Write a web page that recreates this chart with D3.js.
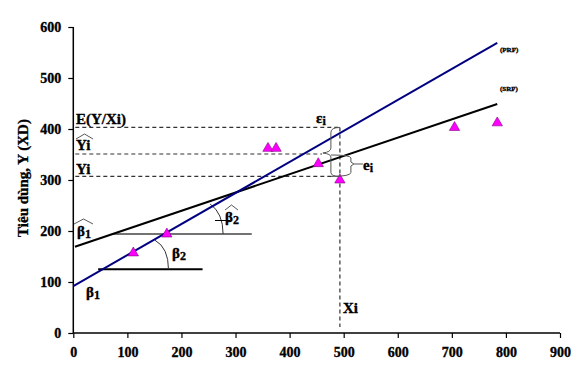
<!DOCTYPE html>
<html><head><meta charset="utf-8">
<script src="https://cdn.jsdelivr.net/npm/d3@7/dist/d3.min.js"></script>
<style>body{margin:0;background:#fff}svg{display:block}text{font-family:"Liberation Serif","Times New Roman",serif;font-weight:bold;stroke:#000;stroke-width:0.35px}</style>
</head><body>
<svg id="c" width="587" height="368"></svg>
<script>
// ---- data ----
const xTicks = [0,100,200,300,400,500,600,700,800,900];
const yTicks = [0,100,200,300,400,500,600];
const obsX = [111,173,360,375,453,493,705,784];
const obsY = [157,194,362,362,332,300,403,412];
const prfX = [0,784], prfY = [92,569];
const srfX = [3,784], srfY = [169,449];
const levelLabels = ["E(Y/Xi)","Yi","Yi"];
const levelValues = [403,351,307];
const levelEnds = [493,460,477];
const xiValue = 493;
const refLevels = [194,125];
const refStart = [71,46];
const refEnd = [330,239];

const svg = d3.select("#c");
const x = d3.scaleLinear().domain([0,900]).range([73.3,560]);
const y = d3.scaleLinear().domain([0,600]).range([333,27]);

// axes
const ax = svg.append("g").attr("transform","translate(0,333)")
  .call(d3.axisBottom(x).tickValues(xTicks).tickSize(5).tickPadding(9));
const ay = svg.append("g").attr("transform","translate(73.3,0)")
  .call(d3.axisLeft(y).tickValues(yTicks).tickSize(5).tickPadding(7));
[ax,ay].forEach(a=>{
  a.select(".domain").attr("stroke","#000").attr("stroke-width",1.5);
  a.selectAll(".tick line").attr("stroke","#000").attr("stroke-width",1.2);
  a.selectAll("text").attr("font-size",14).attr("fill","#000")
   .attr("font-family","Liberation Serif, serif").attr("font-weight","bold");
});
ax.select(".domain").attr("d","M73.3,0H560");
ay.select(".domain").attr("d","M0,333V27");

svg.append("text").attr("transform","translate(28,178) rotate(-90)")
  .attr("text-anchor","middle").attr("font-size",15).text("Tiêu dùng, Y (XD)");

// dashed level lines
const dash = "4,3";
levelValues.forEach((v,i)=>{
  svg.append("line").attr("x1",x(0)+2).attr("x2",x(levelEnds[i]))
    .attr("y1",y(v)).attr("y2",y(v)).attr("stroke","#333").attr("stroke-width",1.2)
    .attr("stroke-dasharray",dash);
});
svg.append("line").attr("x1",x(xiValue)).attr("x2",x(xiValue))
  .attr("y1",y(levelValues[0])).attr("y2",y(12))
  .attr("stroke","#333").attr("stroke-width",1.2).attr("stroke-dasharray",dash);

// reference horizontal lines
svg.append("line").attr("x1",x(refStart[0])).attr("x2",x(refEnd[0]))
  .attr("y1",y(refLevels[0])).attr("y2",y(refLevels[0])).attr("stroke","#444").attr("stroke-width",1.5);
svg.append("line").attr("x1",x(refStart[1])).attr("x2",x(refEnd[1]))
  .attr("y1",y(refLevels[1])).attr("y2",y(refLevels[1])).attr("stroke","#000").attr("stroke-width",2);

// arcs
svg.append("path").attr("d",`M${x(176)},${y(125)}Q${x(176)},${y(167)} ${x(151)},${y(182)}`)
  .attr("fill","none").attr("stroke","#333").attr("stroke-width",1);
svg.append("path").attr("d",`M${x(277)},${y(194)}Q${x(277)},${y(235)} ${x(253)},${y(253)}`)
  .attr("fill","none").attr("stroke","#333").attr("stroke-width",1);

// regression lines
const line = d3.line().x(d=>x(d[0])).y(d=>y(d[1]));
svg.append("path").datum(d3.zip(srfX,srfY)).attr("d",line)
  .attr("fill","none").attr("stroke","#000").attr("stroke-width",2);
svg.append("path").datum(d3.zip(prfX,prfY)).attr("d",line)
  .attr("fill","none").attr("stroke","#000080").attr("stroke-width",2);

// points
svg.selectAll(".pt").data(d3.zip(obsX,obsY)).join("path")
  .attr("transform",d=>`translate(${x(d[0])},${y(d[1])})`)
  .attr("d",d3.symbol(d3.symbolTriangle,46))
  .attr("fill","#ff00ff").attr("stroke","#800080").attr("stroke-width",0.6);

// braces
const xb = x(xiValue);
const yE = y(levelValues[0]), yH = y(levelValues[1]), yY = y(levelValues[2]);
svg.append("path").attr("d",
  `M${xb},${yE}Q${xb-9},${yE} ${xb-9},${yE+5}L${xb-9},${yH-6}Q${xb-9},${yH-2} ${xb-17},${yH-1}`)
  .attr("fill","none").attr("stroke","#555").attr("stroke-width",1);
svg.append("path").attr("d",
  `M${xb-17},${yH-1}Q${xb-9},${yH} ${xb-9},${yH+3}L${xb-9},${yY-4}Q${xb-9},${yY} ${xb},${yY}`)
  .attr("fill","none").attr("stroke","#555").attr("stroke-width",1);
svg.append("path").attr("d",
  `M${xb-9},${yH+1}Q${xb+11},${yH+1} ${xb+11},${yH+4}L${xb+11},${yH+8}L${xb+14},${yH+10}L${xb+11},${yH+12}L${xb+11},${yY-4}Q${xb+11},${yY} ${xb-9},${yY}`)
  .attr("fill","none").attr("stroke","#555").attr("stroke-width",1);
svg.append("line").attr("x1",xb+14).attr("x2",xb+23).attr("y1",yH+10).attr("y2",yH+10)
  .attr("stroke","#555").attr("stroke-width",1);

// labels
function sub(main,s,px,py,fs){
  const tx = svg.append("text").attr("x",px).attr("y",py).attr("font-size",fs).text(main);
  tx.append("tspan").attr("dy",2).attr("font-size",fs*0.8).text(s);
  return tx;
}
function hat(x0,x1,yb){
  svg.append("path").attr("d",`M${x0},${yb}L${(x0+x1)/2},${yb-5}L${x1},${yb}`)
    .attr("fill","none").attr("stroke","#444").attr("stroke-width",0.9);
}
svg.append("text").attr("x",76).attr("y",yE-3).attr("font-size",15).text(levelLabels[0]);
svg.append("text").attr("x",76).attr("y",yH-4).attr("font-size",15).text(levelLabels[1]);
hat(76,93,yH-15);
svg.append("text").attr("x",76).attr("y",yY-2).attr("font-size",15).text(levelLabels[2]);

sub("ε","i",316,yE-4,15);
sub("e","i",363,yH+16,15);
svg.append("text").attr("x",343).attr("y",313).attr("font-size",15).text("Xi");

sub("β","1",77,236,15); hat(74,93,224);
sub("β","1",86,297,15);
sub("β","2",172,258,15);
sub("β","2",225,222,15); hat(225,238,210);
svg.append("line").attr("x1",215).attr("x2",230).attr("y1",220.5).attr("y2",220.5)
  .attr("stroke","#000").attr("stroke-width",1);

svg.append("text").attr("x",500).attr("y",52).attr("font-size",7).attr("stroke-width",0.2).text("(PRF)");
svg.append("text").attr("x",500).attr("y",91).attr("font-size",7).attr("stroke-width",0.2).text("(SRF)");
</script>
</body></html>
